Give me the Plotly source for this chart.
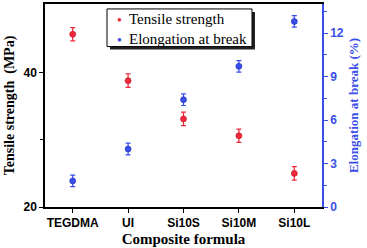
import plotly.graph_objects as go

categories = ["TEGDMA", "UI", "Si10S", "Si10M", "Si10L"]
tensile = [45.7, 38.8, 33.1, 30.6, 25.0]
tensile_err = [1.0, 1.0, 1.0, 1.0, 1.0]
elongation = [1.8, 4.0, 7.4, 9.7, 12.8]
elongation_err = [0.4, 0.4, 0.4, 0.4, 0.4]
series_names = ["Tensile strength", "Elongation at break"]

RED = "#f0283c"
BLUE = "#3a4ee8"
SERIF = "Liberation Serif, Times New Roman, serif"
SANS = "Liberation Sans, Arial, sans-serif"

# plot area in pixels: x 45..322, y 2..207
def px(x):
    return (x - 45) / 277


def py(y):
    return (207 - y) / 205


fig = go.Figure()
fig.add_trace(go.Scatter(
    x=categories, y=tensile, mode="markers", name=series_names[0],
    marker=dict(color=RED, size=6, line=dict(color="#c01020", width=0.6)),
    error_y=dict(type="data", array=tensile_err, color=RED, thickness=1.2, width=2.5),
    yaxis="y",
))
fig.add_trace(go.Scatter(
    x=categories, y=elongation, mode="markers", name=series_names[1],
    marker=dict(color=BLUE, size=6, line=dict(color="#1a2ec0", width=0.6)),
    error_y=dict(type="data", array=elongation_err, color=BLUE, thickness=1.2, width=2.5),
    yaxis="y2",
))

# legend box with drop shadow
fig.add_shape(type="rect", xref="paper", yref="paper",
              x0=px(110), x1=px(255), y0=py(48), y1=py(10),
              fillcolor="#222222", line=dict(width=0), layer="above")
fig.add_shape(type="rect", xref="paper", yref="paper",
              x0=px(107), x1=px(252), y0=py(45), y1=py(7),
              fillcolor="white", line=dict(color="black", width=1), layer="above")
for i, (name, col) in enumerate(zip(series_names, [RED, BLUE])):
    yy = 17 + 20 * i
    fig.add_annotation(xref="paper", yref="paper", x=px(119), y=py(yy),
                       text="●", showarrow=False, xanchor="center", yanchor="middle",
                       font=dict(size=8, color=col))
    fig.add_annotation(xref="paper", yref="paper", x=px(127), y=py(yy),
                       text=name, showarrow=False, xanchor="left", yanchor="middle",
                       font=dict(family=SERIF, size=15, color="black"))

fig.update_layout(
    width=367, height=248,
    margin=dict(l=45, r=45, t=2, b=41),
    paper_bgcolor="white", plot_bgcolor="white",
    showlegend=False,
    xaxis=dict(
        type="category", categoryorder="array", categoryarray=categories,
        range=[-0.5, 4.5], showgrid=False, zeroline=False,
        showline=True, linecolor="black", linewidth=1.5, mirror=True,
        ticks="outside", ticklen=4, tickcolor="black",
        tickfont=dict(family=SANS, size=12, color="black", weight="bold"),
        title=dict(text="<b>Composite formula</b>", standoff=4,
                   font=dict(family=SERIF, size=15, color="black")),
    ),
    yaxis=dict(
        range=[20, 50.2], tickvals=[20, 40], showgrid=False, zeroline=False,
        showline=True, linecolor="black", linewidth=1.5,
        ticks="outside", ticklen=4, tickcolor="black",
        minor=dict(tickvals=[30], ticks="outside", ticklen=3, tickcolor="black"),
        tickfont=dict(family=SANS, size=12, color="black", weight="bold"),
        title=dict(text="<b>Tensile strength  (MPa)</b>", standoff=6,
                   font=dict(family=SERIF, size=14, color="black")),
    ),
    yaxis2=dict(
        range=[0, 14], tickvals=[0, 3, 6, 9, 12], overlaying="y", side="right",
        showgrid=False, zeroline=False,
        showline=True, linecolor=BLUE, linewidth=1.5,
        ticks="outside", ticklen=4, tickcolor=BLUE,
        minor=dict(tickvals=[1.5, 4.5, 7.5, 10.5, 13.5], ticks="outside", ticklen=3, tickcolor=BLUE),
        tickfont=dict(family=SANS, size=12, color=BLUE, weight="bold"),
        title=dict(text="<b>Elongation at break (%)</b>", standoff=6,
                   font=dict(family=SERIF, size=13, color=BLUE)),
    ),
)

fig.write_html("out.html", config={"displayModeBar": False},
               post_script="document.body.style.margin='0';")
